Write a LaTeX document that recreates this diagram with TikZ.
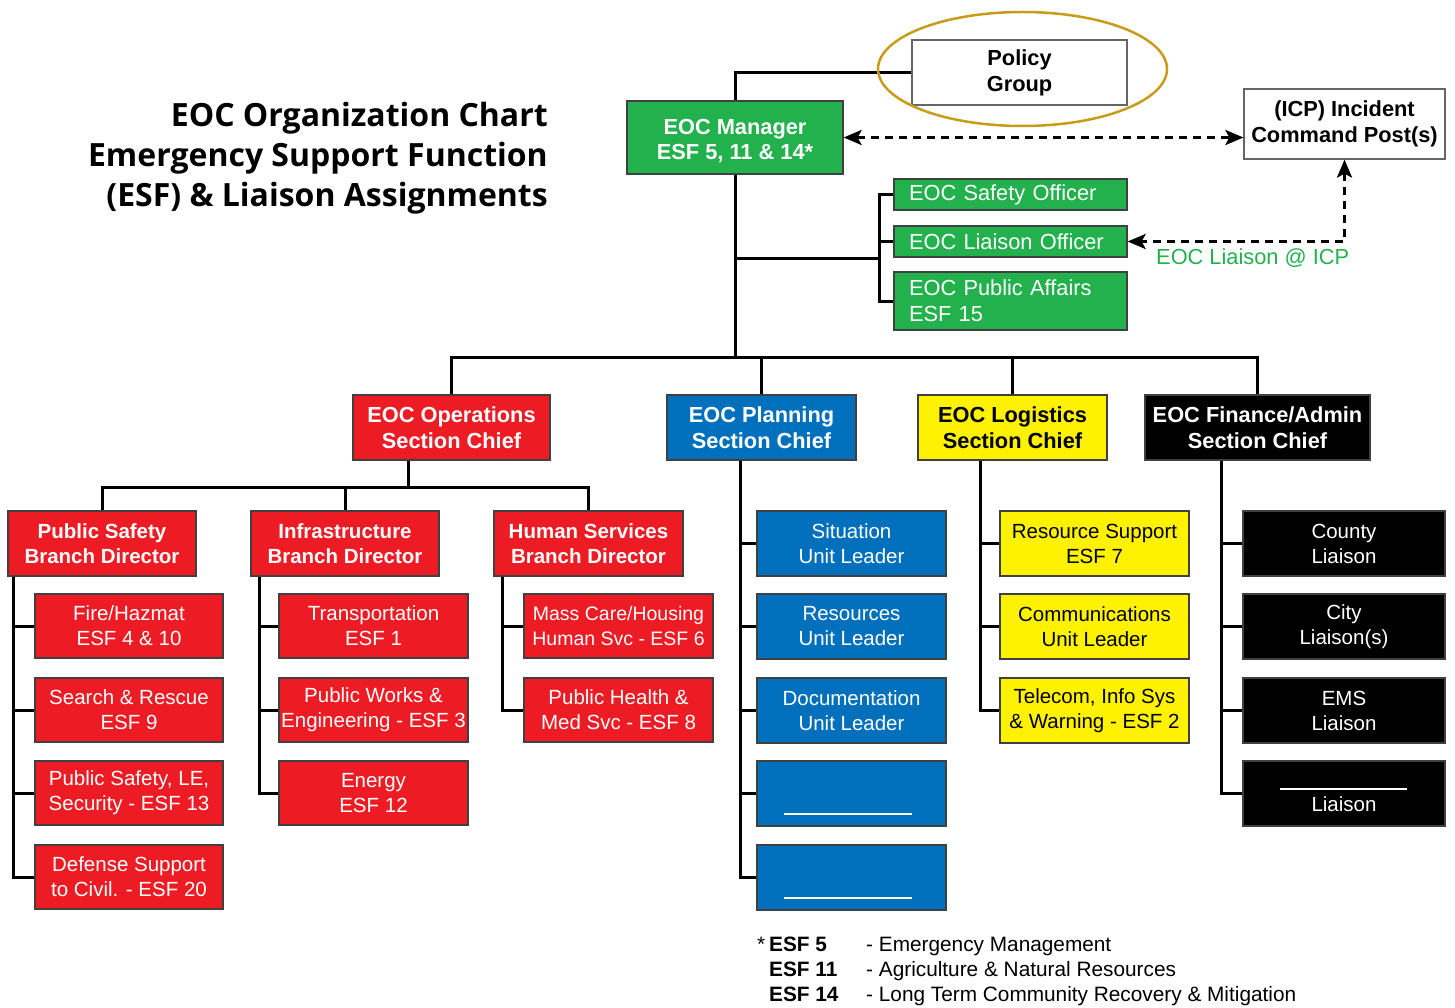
\documentclass[tikz,border=0pt]{standalone}
\usepackage{fontspec}
\setmainfont{Liberation Sans}
\newfontfamily\titlefont{Open Sans}
\usetikzlibrary{arrows.meta,calc}
\definecolor{egreen}{RGB}{34,177,76}
\definecolor{ered}{RGB}{237,28,36}
\definecolor{eblue}{RGB}{0,112,188}
\definecolor{eyellow}{RGB}{255,242,0}
\definecolor{egold}{RGB}{200,155,25}
\begin{document}
\begin{tikzpicture}[x=1pt,y=-1pt,
  box/.style={draw=black!75, line width=1.2pt, inner sep=0pt, align=center,
    font=\fontsize{20.5}{25}\selectfont},
  bbold/.style={box, font=\bfseries\fontsize{21.8}{26}\selectfont},
  bsmall/.style={box, font=\bfseries\fontsize{20.5}{25}\selectfont},
  gbox/.style={box, fill=egreen, text=white, align=left, inner xsep=15pt,
    font=\fontsize{21.8}{26}\selectfont},
  rbox/.style={box, fill=ered, text=white},
  bluebox/.style={box, fill=eblue, text=white},
  ybox/.style={box, fill=eyellow, text=black},
  kbox/.style={box, fill=black, text=white},
  conn/.style={line width=3pt, black},
  dasharrow/.style={line width=3pt, dash pattern=on 8pt off 6pt,
    {Stealth[length=18pt,width=15pt,inset=4pt]}-{Stealth[length=18pt,width=15pt,inset=4pt]}},
  legend/.style={inner sep=0pt, anchor=base west, font=\fontsize{20.8}{25}\selectfont}
]
\useasboundingbox (0,0) rectangle (1455,1008);

% title
\node[inner sep=0pt, anchor=north east, align=right,
  font=\titlefont\bfseries\fontsize{32}{40}\selectfont] (title) at (548,102)
  {EOC Organization Chart\\Emergency Support Function\\(ESF) \& Liaison Assignments};

% top level
\node[bbold, fill=white, draw=black!60, minimum width=215pt, minimum height=65pt] (Pol) at (1019.5,72.5) {Policy\\Group};
\node[bbold, fill=egreen, text=white, minimum width=216pt, minimum height=73pt, text depth=0pt] (Mgr) at (735,137.5) {\raisebox{-4pt}{\shortstack{EOC Manager\\[2pt]ESF 5, 11 \& 14*}}};
\node[bbold, fill=white, draw=black!60, minimum width=201pt, minimum height=70pt] (ICP) at (1344.5,124) {(ICP) Incident\\Command Post(s)};

% officers
\node[gbox, text width=203pt, minimum height=31pt] (Saf) at (1010.5,194.5) {EOC Safety Officer};
\node[gbox, text width=203pt, minimum height=31pt] (LO) at (1010.5,241.5) {EOC Liaison Officer};
\node[gbox, text width=203pt, minimum height=58pt] (PA) at (1010.5,301) {EOC Public Affairs\\ESF 15};

% sections
\node[bbold, fill=ered, text=white, minimum width=197pt, minimum height=65pt] (Ops) at (451.5,427.5) {EOC Operations\\Section Chief};
\node[bbold, fill=eblue, text=white, minimum width=189pt, minimum height=65pt] (Plan) at (761.5,427.5) {EOC Planning\\Section Chief};
\node[bbold, fill=eyellow, text=black, minimum width=189pt, minimum height=65pt] (Log) at (1012.5,427.5) {EOC Logistics\\Section Chief};
\node[bbold, fill=black, text=white, minimum width=225pt, minimum height=65pt] (Fin) at (1257.5,427.5) {EOC Finance/Admin\\Section Chief};

% branches
\node[bsmall, fill=ered, text=white, minimum width=188pt, minimum height=65pt] (PSB) at (102,543.5) {Public Safety\\Branch Director};
\node[bsmall, fill=ered, text=white, minimum width=188pt, minimum height=65pt] (INF) at (345,543.5) {Infrastructure\\Branch Director};
\node[bsmall, fill=ered, text=white, minimum width=189pt, minimum height=65pt] (HSB) at (588.5,543.5) {Human Services\\Branch Director};

% public safety children
\begin{scope}[every node/.append style={rbox, minimum width=188pt, minimum height=64pt}]
\node (PS1) at (129,626) {Fire/Hazmat\\ESF 4 \& 10};
\node (PS2) at (129,710) {Search \& Rescue\\ESF 9};
\node (PS3) at (129,793) {Public Safety, LE,\\Security - ESF 13};
\node (PS4) at (129,877) {Defense Support\\to Civil. - ESF 20};
\end{scope}
% infrastructure children
\begin{scope}[every node/.append style={rbox, minimum width=189pt, minimum height=64pt}]
\node (IN1) at (373.5,626) {Transportation\\ESF 1};
\node (IN2) at (373.5,710) {Public Works \&\\Engineering - ESF 3};
\node (IN3) at (373.5,793) {Energy\\ESF 12};
\end{scope}
% human services children
\begin{scope}[every node/.append style={rbox, minimum width=189pt, minimum height=64pt}]
\node[font=\fontsize{19.5}{25}\selectfont] (HS1) at (618.5,626) {Mass Care/Housing\\Human Svc - ESF 6};
\node (HS2) at (618.5,710) {Public Health \&\\Med Svc - ESF 8};
\end{scope}
% planning children
\begin{scope}[every node/.append style={bluebox, minimum width=189pt, minimum height=65pt}]
\node (PL1) at (851.5,543.5) {Situation\\Unit Leader};
\node (PL2) at (851.5,626.5) {Resources\\Unit Leader};
\node (PL3) at (851.5,710.5) {Documentation\\Unit Leader};
\node (PL4) at (851.5,793.5) {};
\node (PL5) at (851.5,877.5) {};
\end{scope}
% logistics children
\begin{scope}[every node/.append style={ybox, minimum width=189pt, minimum height=65pt}]
\node (LG1) at (1094.5,543.5) {Resource Support\\ESF 7};
\node (LG2) at (1094.5,626.5) {Communications\\Unit Leader};
\node (LG3) at (1094.5,710.5) {Telecom, Info Sys\\\& Warning - ESF 2};
\end{scope}
% finance children
\begin{scope}[every node/.append style={kbox, minimum width=202pt, minimum height=65pt}]
\node (FN1) at (1344,543.5) {County\\Liaison};
\node (FN2) at (1344,626.5) {City\\Liaison(s)};
\node (FN3) at (1344,710.5) {EMS\\Liaison};
\node (FN4) at (1344,793.5) {};
\end{scope}
\node[inner sep=0pt, text=white, font=\fontsize{20.5}{25}\selectfont, anchor=base] (FN4t) at ($(FN4.center)+(0,18)$) {Liaison};
\draw[white, line width=1.5pt] ($(FN4.center)+(-64,-4.5)$) -- ++(127,0);
\draw[white, line width=1.5pt] ($(PL4.center)+(-68,20.5)$) -- ++(128,0);
\draw[white, line width=1.5pt] ($(PL5.center)+(-68,20.5)$) -- ++(128,0);

% connectors: top
\draw[conn] (Pol.west) -| (Mgr.north);
\coordinate (topbus) at (735,357);
\coordinate (offbus) at (879,258);
\draw[conn] (Mgr.south) -- (topbus);
\draw[conn] (Mgr.south |- offbus) -- (offbus);
\draw[conn] (Saf.west) -| (offbus) |- (PA.west);
\draw[conn] (LO.west) -- (LO.west -| offbus);
\draw[conn] (Ops.north) |- (topbus) -| (Fin.north);
\draw[conn] (Plan.north) -- (Plan.north |- topbus);
\draw[conn] (Log.north) -- (Log.north |- topbus);

% operations branch bus
\coordinate (opsbus) at (408,487);
\draw[conn] (opsbus |- Ops.south) -- (opsbus);
\draw[conn] (PSB.north) |- (opsbus) -| (HSB.north);
\draw[conn] (INF.north) -- (INF.north |- opsbus);

% child brackets
\foreach \c in {PS1,PS2,PS3,PS4} \draw[conn] ([xshift=6pt]PSB.south west) |- (\c.west);
\foreach \c in {IN1,IN2,IN3} \draw[conn] ([xshift=9pt]INF.south west) |- (\c.west);
\foreach \c in {HS1,HS2} \draw[conn] ([xshift=9pt]HSB.south west) |- (\c.west);
\foreach \c in {PL1,PL2,PL3,PL4,PL5} \draw[conn] ([xshift=74pt]Plan.south west) |- (\c.west);
\foreach \c in {LG1,LG2,LG3} \draw[conn] ([xshift=63pt]Log.south west) |- (\c.west);
\foreach \c in {FN1,FN2,FN3,FN4} \draw[conn] ([xshift=77pt]Fin.south west) |- (\c.west);

% dashed links
\draw[dasharrow] (Mgr.east) -- (Mgr.east -| ICP.west);
\draw[dasharrow] (ICP.south) |- (LO.east);
\node[inner sep=0pt, anchor=base west, text=egreen, font=\fontsize{21.8}{26}\selectfont] (lab) at (1156,265) {EOC Liaison @ ICP};

% ellipse
\draw[egold, line width=2.5pt] (1022.5,69) ellipse [x radius=144.5pt, y radius=57pt];

% legend
\node[legend] (st) at (757,951) {*};
\node[legend, font=\bfseries\fontsize{20.8}{25}\selectfont] (k1) at (769,951) {ESF 5};
\node[legend, font=\bfseries\fontsize{20.8}{25}\selectfont] (k2) at (769,976) {ESF 11};
\node[legend, font=\bfseries\fontsize{20.8}{25}\selectfont] (k3) at (769,1001) {ESF 14};
\node[legend] (v1) at (866,951) {- Emergency Management};
\node[legend] (v2) at (866,976) {- Agriculture \& Natural Resources};
\node[legend] (v3) at (866,1001) {- Long Term Community Recovery \& Mitigation};
\end{tikzpicture}
\end{document}
